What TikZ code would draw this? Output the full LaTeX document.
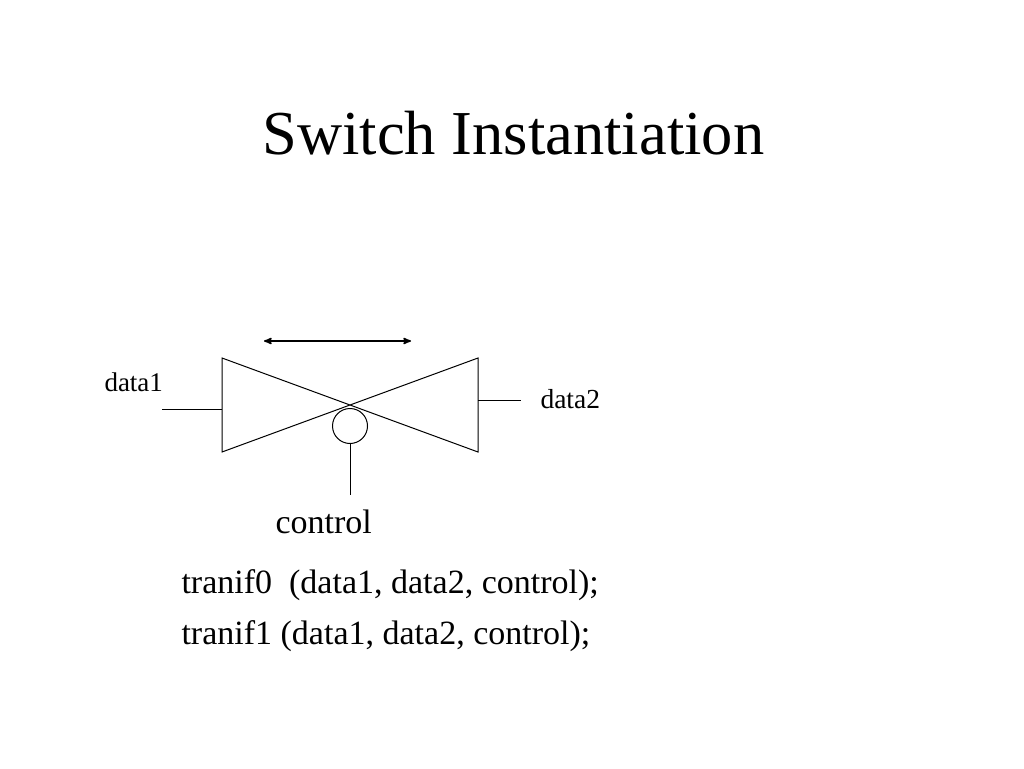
\documentclass[tikz,border=0pt]{standalone}
\usepackage{fontspec}
\setmainfont{Liberation Serif}
\usetikzlibrary{arrows, positioning}
\begin{document}
\begin{tikzpicture}[x=1pt, y=-1pt, line width=1pt, >=stealth']
    \useasboundingbox (0, 0) rectangle (1024, 768);
    \tikzset{lbl/.style={inner sep=0pt, anchor=base west}}
    \node [lbl, font=\fontsize{62.5}{62.5}\selectfont] (title) at (262, 154) {Switch Instantiation};
    \coordinate (ltop) at (222, 358);
    \coordinate (lbot) at (222, 452);
    \coordinate (rtop) at (478, 358);
    \coordinate (rbot) at (478, 452);
    \coordinate (lmid) at (222, 409);
    \coordinate (rmid) at (478, 400);
    \coordinate (lend) at (162, 409);
    \coordinate (rend) at (521, 400);
    \coordinate (cend) at (350, 495);
    \coordinate (arrowl) at (264, 341);
    \coordinate (arrowr) at (411, 341);
    \node [circle, draw, minimum size=35pt, inner sep=0pt] (bubble) at (350, 426) {};
    \draw (ltop) -- (rbot) -- (rtop) -- (lbot) -- cycle;
    \draw (lend) -- (lmid);
    \draw (rmid) -- (rend);
    \draw (bubble) -- (cend);
    \draw [<->, line width=1.6pt] (arrowl) -- (arrowr);
    \node [lbl, font=\fontsize{27}{27}\selectfont] (data1) at (104, 391) {data1};
    \node [lbl, font=\fontsize{27.5}{27.5}\selectfont] (data2) at (540, 408) {data2};
    \node [lbl, font=\fontsize{34}{34}\selectfont] (control) at (275, 533) {control};
    \node [lbl, font=\fontsize{34}{34}\selectfont] (tran0) at (181, 593) {tranif0\ \ (data1, data2, control);};
    \node [lbl, font=\fontsize{34}{34}\selectfont] (tran1) at (181, 644) {tranif1 (data1, data2, control);};
\end{tikzpicture}
\end{document}
